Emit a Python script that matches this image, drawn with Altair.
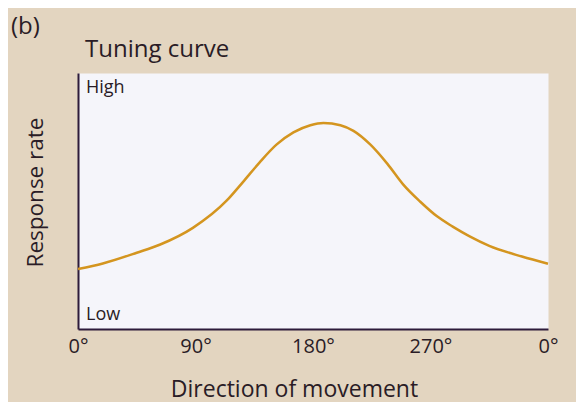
import altair as alt
import pandas as pd

# Tuning curve (direction in degrees, response 0..100 = Low..High)
degrees = [0, 19, 45, 63, 88, 114, 126, 139, 152, 165, 178, 188, 201, 211, 224, 237, 249, 262, 275, 287, 300, 315, 340, 360]
response = [23.4, 25.6, 29.8, 33.0, 39.5, 50.2, 57.2, 65.0, 72.0, 76.8, 79.6, 80.5, 79.6, 77.4, 72.0, 64.5, 56.5, 49.8, 44.0, 40.0, 36.2, 32.5, 28.3, 25.5]

level_labels = ["High", "Low"]
level_values = [94, 5.5]

tick_degrees = [0, 90, 180, 270, 360]
heading_texts = ["(b)", "Tuning curve"]
x_title = "Direction of movement"
y_title = "Response rate"

FONT = "Open Sans"
INK = "#2a1c26"
AXIS = "#2d1b3a"

curve_df = pd.DataFrame({"direction": degrees, "response": response})
levels_df = pd.DataFrame({"label": level_labels, "response": level_values, "direction": [0] * len(level_labels)})

x_scale = alt.Scale(domain=[0, 360], nice=False, zero=False)
y_scale = alt.Scale(domain=[0, 100], nice=False, zero=False)

curve = alt.Chart(curve_df).mark_line(
    color="#D4951F", strokeWidth=2.5, interpolate="monotone"
).encode(
    x=alt.X(
        "direction:Q", scale=x_scale,
        axis=alt.Axis(
            values=tick_degrees,
            labelExpr="datum.value == 360 ? '0°' : datum.value + '°'",
            ticks=False, grid=False,
            domainColor=AXIS, domainWidth=2,
            labelFont=FONT, labelFontSize=20, labelColor=INK, labelPadding=7,
            labelFlush=False, labelOverlap=False,
            title=x_title, titleFont=FONT, titleFontSize=23, titleFontWeight="normal",
            titleColor=INK, titleX=216, titleY=67, titleAlign="center",
            titleBaseline="alphabetic",
        ),
    ),
    y=alt.Y(
        "response:Q", scale=y_scale,
        axis=alt.Axis(
            labels=False, ticks=False, grid=False,
            domainColor=AXIS, domainWidth=2,
            title=y_title, titleFont=FONT, titleFontSize=22.5, titleFontWeight="normal",
            titleColor=INK, titleX=-36, titleY=119, titleAngle=270,
            titleAlign="center", titleBaseline="alphabetic",
        ),
    ),
)

levels = alt.Chart(levels_df).mark_text(
    align="left", baseline="middle", dx=8, fontSize=18, font=FONT, color=INK
).encode(
    x=alt.X("direction:Q", scale=x_scale),
    y=alt.Y("response:Q", scale=y_scale),
    text="label:N",
)

panel = alt.Chart(pd.DataFrame({"t": [heading_texts[0]]})).mark_text(
    align="left", baseline="alphabetic", fontSize=24, font=FONT, color=INK
).encode(
    x=alt.value(-67), y=alt.value(-39), text="t:N"
)

heading = alt.Chart(pd.DataFrame({"t": [heading_texts[1]]})).mark_text(
    align="left", baseline="alphabetic", fontSize=24, font=FONT, color=INK
).encode(
    x=alt.value(7), y=alt.value(-16), text="t:N"
)

chart = alt.layer(curve, levels, panel, heading).properties(
    width=470,
    height=256,
    padding={"left": 70, "top": 65, "right": 28, "bottom": 73},
    autosize=alt.AutoSizeParams(type="none"),
    background="#E3D5C0",
).configure_view(fill="#F5F5FA", strokeOpacity=0)

chart.save("out.html", embed_options={"renderer": "svg", "actions": False})
